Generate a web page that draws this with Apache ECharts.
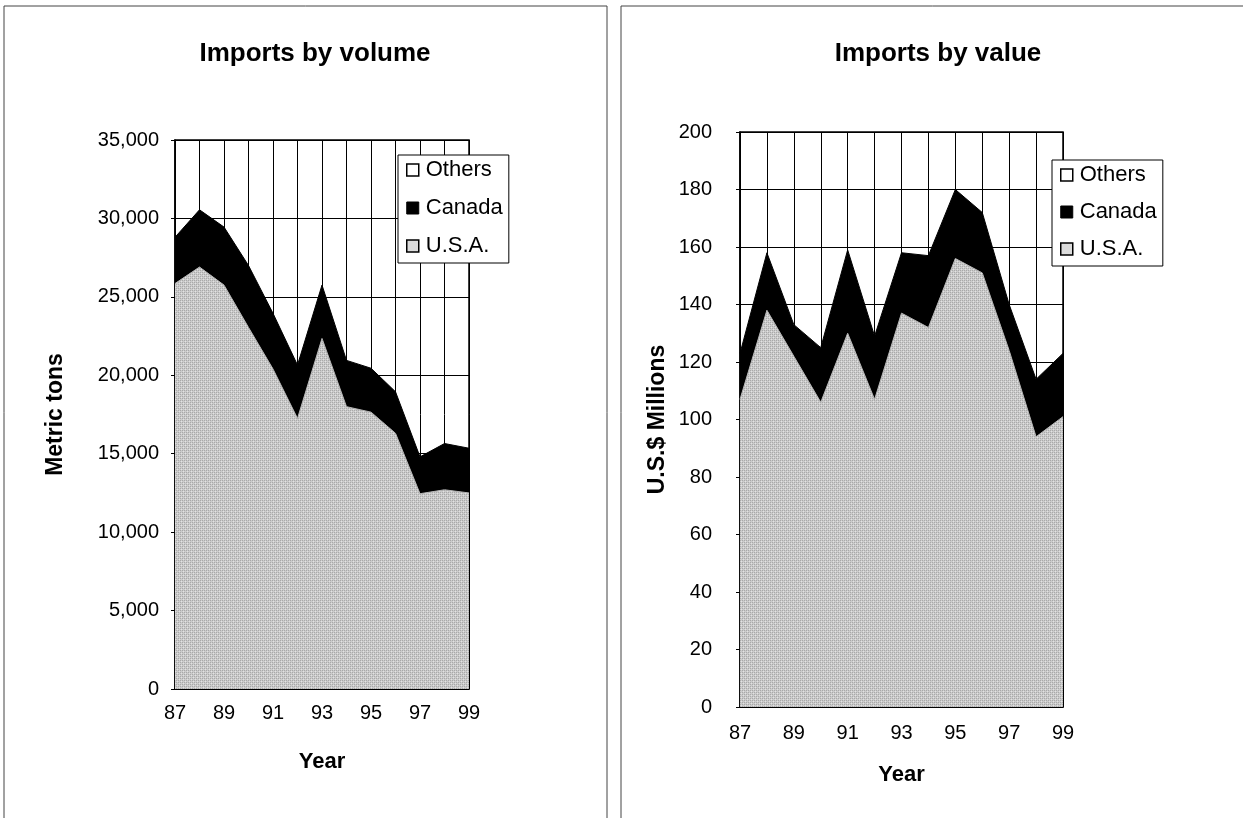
<!DOCTYPE html>
<html>
<head>
<meta charset="utf-8">
<script src="https://cdn.jsdelivr.net/npm/echarts@6/dist/echarts.min.js"></script>
<style>
html,body{margin:0;padding:0;background:#fff;}
#c{width:1243px;height:818px;}
</style>
</head>
<body>
<div id="c"></div>
<script>
// ---- data ----
const years = ['87','88','89','90','91','92','93','94','95','96','97','98','99'];
const volYTicks = [0, 5000, 10000, 15000, 20000, 25000, 30000, 35000];
const valYTicks = [0, 20, 40, 60, 80, 100, 120, 140, 160, 180, 200];
// Imports by volume (metric tons)
const volUSA    = [25850, 26900, 25750, 23050, 20400, 17250, 22350, 18000, 17650, 16300, 12450, 12700, 12500];
const volCanada = [2950, 3650, 3700, 3950, 3550, 3400, 3400, 2950, 2800, 2650, 2350, 2950, 2850];
const volOthers = [0, 0, 0, 0, 0, 0, 0, 0, 0, 0, 0, 0, 0];
// Imports by value (U.S.$ millions)
const valUSA    = [107, 138, 122, 106, 130, 107, 137, 132, 156, 151, 124, 94, 101];
const valCanada = [16, 20, 11, 19, 29, 22, 21, 25, 24, 21, 16, 20, 22];
const valOthers = [0, 0, 0, 0, 0, 0, 0, 0, 0, 0, 0, 0, 0];

// ---- style helpers ----
const FONT = "'Liberation Sans', Arial, sans-serif";
function makePattern() {
  const cv = document.createElement('canvas');
  cv.width = 4; cv.height = 4;
  const ctx = cv.getContext('2d');
  ctx.fillStyle = '#cbcbcb';
  ctx.fillRect(0, 0, 4, 4);
  ctx.fillStyle = '#a9a9a9';
  ctx.fillRect(0, 0, 1, 1); ctx.fillRect(2, 2, 1, 1);
  ctx.fillRect(2, 0, 1, 1); ctx.fillRect(0, 2, 1, 1);
  ctx.fillStyle = '#e2e2e2';
  ctx.fillRect(1, 1, 1, 1); ctx.fillRect(3, 3, 1, 1);
  return cv;
}
const usaFill = { image: makePattern(), repeat: 'repeat' };

function xAxisCfg(gridIndex, gap, margin) {
  return {
    type: 'category', gridIndex: gridIndex, data: years, boundaryGap: false,
    name: 'Year', nameLocation: 'middle', nameGap: gap,
    nameTextStyle: { fontFamily: FONT, fontSize: 22, fontWeight: 'bold', color: '#000' },
    axisLine: { lineStyle: { color: '#000', width: 1.5 } },
    axisTick: { show: true, inside: true, length: 4, interval: 0, lineStyle: { color: '#000' } },
    axisLabel: { interval: 1, margin: margin, fontFamily: FONT, fontSize: 20, color: '#000' },
    splitLine: { show: true, interval: 0, lineStyle: { color: '#000', width: 1 } }
  };
}
function yAxisCfg(gridIndex, ticks, name, gap, margin, fmt) {
  return {
    type: 'value', gridIndex: gridIndex,
    min: ticks[0], max: ticks[ticks.length - 1], interval: ticks[1] - ticks[0],
    name: name, nameLocation: 'middle', nameGap: gap,
    nameTextStyle: { fontFamily: FONT, fontSize: 23, fontWeight: 'bold', color: '#000' },
    axisLine: { show: true, lineStyle: { color: '#000', width: 1.5 } },
    axisTick: { show: true, length: 4, lineStyle: { color: '#000' } },
    axisLabel: { margin: margin, fontFamily: FONT, fontSize: 20, color: '#000', formatter: fmt },
    splitLine: { show: true, lineStyle: { color: '#000', width: 1 } }
  };
}
function areaSeries(name, data, idx, stack, color, lineColor) {
  return {
    name: name, type: 'line', stack: stack, xAxisIndex: idx, yAxisIndex: idx,
    data: data, symbol: 'none', showSymbol: false, smooth: false,
    lineStyle: { width: name === 'Others' ? 0 : 1, color: lineColor },
    itemStyle: { color: typeof color === 'string' ? color : '#cccccc' },
    areaStyle: { color: color, opacity: 1 },
    emphasis: { disabled: true }, silent: true, z: 3
  };
}
function legendCfg(left, top, gap) {
  return {
    orient: 'vertical', left: left, top: top,
    backgroundColor: '#fff', borderColor: '#000', borderWidth: 1,
    padding: [4, 6, 6, 8], itemGap: gap, itemWidth: 12, itemHeight: 12,
    textStyle: { fontFamily: FONT, fontSize: 22, color: '#000', padding: [0, 0, 0, 2] },
    selectedMode: false,
    data: [
      { name: 'Others', icon: 'rect', itemStyle: { color: '#fff', borderColor: '#000', borderWidth: 1.5 } },
      { name: 'Canada', icon: 'rect', itemStyle: { color: '#000', borderColor: '#000', borderWidth: 1 } },
      { name: 'U.S.A.', icon: 'rect', itemStyle: { color: '#dcdcdc', borderColor: '#000', borderWidth: 1.5 } }
    ]
  };
}
const commaFmt = v => v.toString().replace(/\B(?=(\d{3})+(?!\d))/g, ',');

const option = {
  backgroundColor: '#fff',
  animation: false,
  graphic: [
    { type: 'rect', shape: { x: 4, y: 6, width: 603, height: 830 }, style: { fill: 'none', stroke: '#444', lineWidth: 1 }, silent: true, z: 0 },
    { type: 'rect', shape: { x: 621, y: 6, width: 640, height: 830 }, style: { fill: 'none', stroke: '#444', lineWidth: 1 }, silent: true, z: 0 }
  ],
  title: [
    { text: 'Imports by volume', left: 310, top: 36, textAlign: 'center',
      textStyle: { fontFamily: FONT, fontSize: 26, fontWeight: 'bold', color: '#000' } },
    { text: 'Imports by value', left: 933, top: 36, textAlign: 'center',
      textStyle: { fontFamily: FONT, fontSize: 26, fontWeight: 'bold', color: '#000' } }
  ],
  legend: [ legendCfg(398, 155, 16), legendCfg(1052, 160, 15) ],
  grid: [
    { left: 175, top: 140, width: 294, height: 549, show: true, backgroundColor: '#fff', borderColor: '#000', borderWidth: 1.5 },
    { left: 740, top: 132, width: 323, height: 575, show: true, backgroundColor: '#fff', borderColor: '#000', borderWidth: 1.5 }
  ],
  xAxis: [ xAxisCfg(0, 62, 14), xAxisCfg(1, 57, 16) ],
  yAxis: [
    yAxisCfg(0, volYTicks, 'Metric tons', 108, 16, commaFmt),
    yAxisCfg(1, valYTicks, 'U.S.$ Millions', 71, 28, v => String(v))
  ],
  series: [
    areaSeries('U.S.A.', volUSA, 0, 'vol', usaFill, '#b5b5b5'),
    areaSeries('Canada', volCanada, 0, 'vol', '#000', '#000'),
    areaSeries('Others', volOthers, 0, 'vol', '#fff', '#fff'),
    areaSeries('U.S.A.', valUSA, 1, 'val', usaFill, '#b5b5b5'),
    areaSeries('Canada', valCanada, 1, 'val', '#000', '#000'),
    areaSeries('Others', valOthers, 1, 'val', '#fff', '#fff')
  ]
};
const chart = echarts.init(document.getElementById('c'), null, { renderer: 'canvas' });
chart.setOption(option);
</script>
</body>
</html>
